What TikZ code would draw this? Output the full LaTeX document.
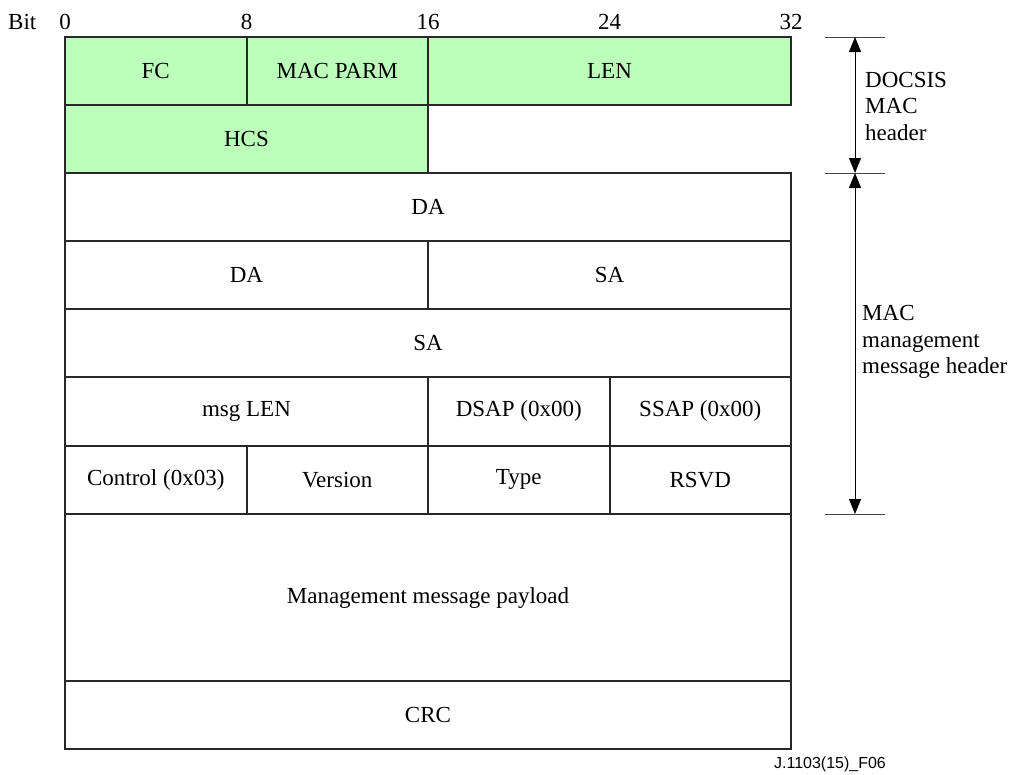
\documentclass[tikz,border=0pt]{standalone}
\usepackage{fontspec}
\setmainfont{Liberation Serif}
\newfontfamily\figidfont{Liberation Sans}
\usetikzlibrary{arrows.meta}
\definecolor{hdrgreen}{RGB}{187,255,187}
\definecolor{gridline}{RGB}{40,40,40}
\definecolor{dimline}{RGB}{70,70,70}
\begin{document}
\begin{tikzpicture}[x=1pt,y=-1pt,
  cell/.style={draw=gridline, line width=2pt, rectangle, inner sep=0pt, outer sep=0pt,
    anchor=north west, font=\fontsize{23}{26.5}\selectfont},
  hdr/.style={cell, fill=hdrgreen},
  bitlbl/.style={font=\fontsize{23}{26.5}\selectfont, inner sep=0pt},
  sidelbl/.style={font=\fontsize{23}{26.5}\selectfont, align=left, anchor=west, inner sep=0pt},
  tick/.style={draw=dimline, line width=0.9pt},
  dim/.style={draw=black, line width=1pt, {Triangle[length=15pt,width=12pt]}-{Triangle[length=15pt,width=12pt]}}
]
\useasboundingbox (0,0) rectangle (1019,774);

% column boundaries: 0, 8, 16, 24, 32 bits
\def\ca{65}\def\cb{246.5}\def\cc{428}\def\cd{609.5}\def\ce{791}
\def\cw{181.5}

% bit ruler
\node[bitlbl, anchor=base west] (bitword) at (8,29) {Bit};
\node[bitlbl, anchor=base] (b0) at (\ca,29) {0};
\node[bitlbl, anchor=base] (b8) at (\cb,29) {8};
\node[bitlbl, anchor=base] (b16) at (\cc,29) {16};
\node[bitlbl, anchor=base] (b24) at (\cd,29) {24};
\node[bitlbl, anchor=base] (b32) at (\ce,29) {32};

% DOCSIS MAC header
\node[hdr, minimum width=\cw pt, minimum height=68pt] (fc) at (\ca,37) {FC};
\node[hdr, minimum width=\cw pt, minimum height=68pt] (parm) at (\cb,37) {MAC PARM};
\node[hdr, minimum width=2*\cw pt, minimum height=68pt] (len) at (\cc,37) {LEN};
\node[hdr, minimum width=2*\cw pt, minimum height=68pt] (hcs) at (\ca,105) {HCS};

% MAC management message header
\node[cell, minimum width=4*\cw pt, minimum height=68pt] (da1) at (\ca,173) {DA};
\node[cell, minimum width=2*\cw pt, minimum height=68pt] (da2) at (\ca,241) {DA};
\node[cell, minimum width=2*\cw pt, minimum height=68pt] (sa1) at (\cc,241) {SA};
\node[cell, minimum width=4*\cw pt, minimum height=68pt] (sa2) at (\ca,309) {SA};
\node[cell, minimum width=2*\cw pt, minimum height=68.5pt] (msglen) at (\ca,377) {msg LEN};
\node[cell, minimum width=\cw pt, minimum height=68.5pt] (dsap) at (\cc,377) {DSAP (0x00)};
\node[cell, minimum width=\cw pt, minimum height=68.5pt] (ssap) at (\cd,377) {SSAP (0x00)};
\node[cell, minimum width=\cw pt, minimum height=68.5pt] (ctrl) at (\ca,445.5) {Control (0x03)};
\node[cell, minimum width=\cw pt, minimum height=68.5pt] (ver) at (\cb,445.5) {\raisebox{-3pt}{Version}};
\node[cell, minimum width=\cw pt, minimum height=68.5pt] (type) at (\cc,445.5) {Type};
\node[cell, minimum width=\cw pt, minimum height=68.5pt] (rsvd) at (\cd,445.5) {\raisebox{-2pt}{RSVD}};

% payload and trailer
\node[cell, minimum width=4*\cw pt, minimum height=167pt] (payload) at (\ca,514) {Management message payload};
\node[cell, minimum width=4*\cw pt, minimum height=68pt] (crc) at (\ca,681) {CRC};

% extent markers on the right
\coordinate (m0) at (855,37);
\coordinate (m1) at (855,173);
\coordinate (m2) at (855,514);
\draw[tick] (825,37) -- (885,37);
\draw[tick] (825,173) -- (885,173);
\draw[tick] (825,514) -- (885,514);
\draw[dim] (m0) -- (m1);
\draw[dim] (m1) -- (m2);

\node[sidelbl] (docsis) at (865,106) {DOCSIS\\MAC\\header};
\node[sidelbl] (mgmt) at (862,342) {MAC\\management\\message header};

\node[font=\figidfont\fontsize{16}{18}\selectfont, inner sep=0pt] (figid) at (830,764) {J.1103(15)\_F06};
\end{tikzpicture}
\end{document}
